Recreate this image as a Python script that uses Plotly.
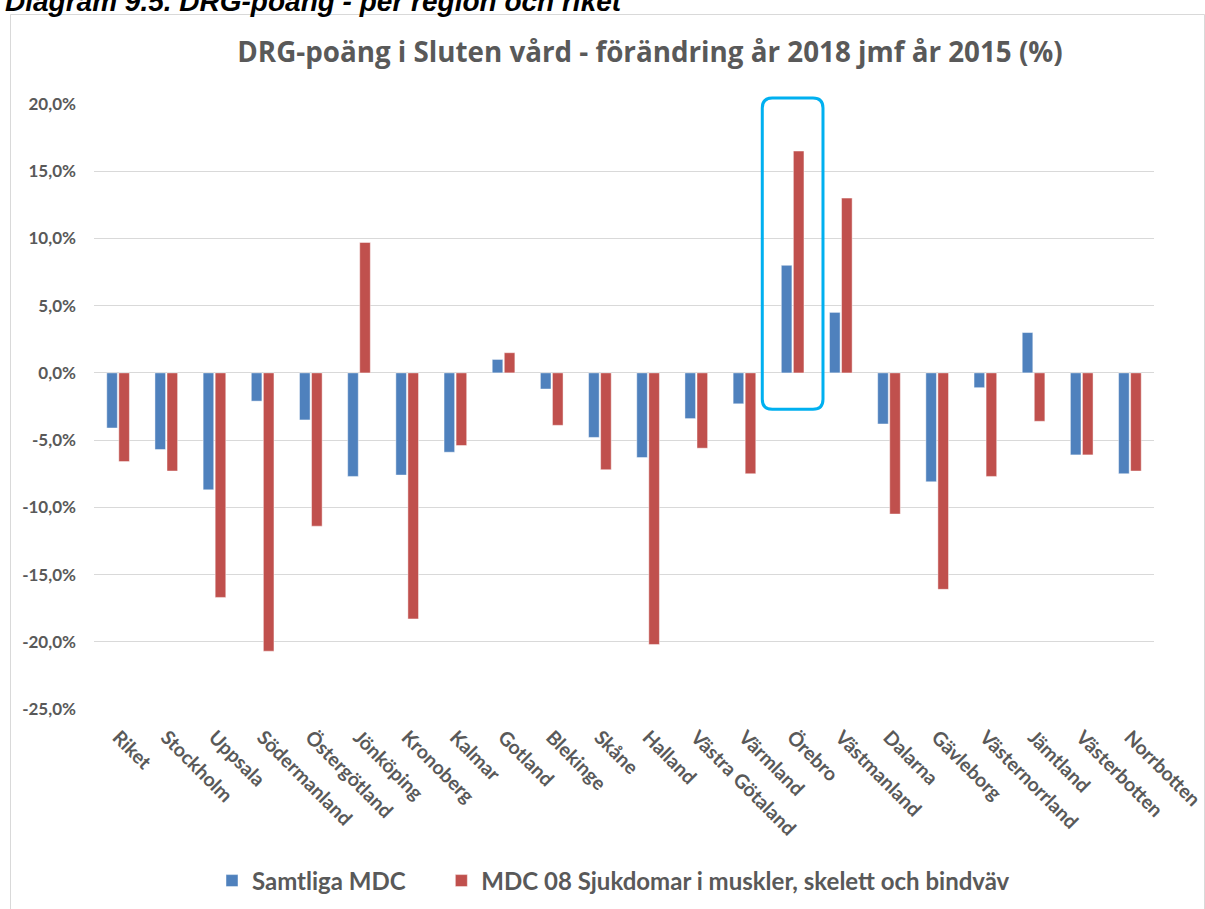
import plotly.graph_objects as go

# Regions (x categories)
regions = [
    "Riket", "Stockholm", "Uppsala", "Södermanland", "Östergötland", "Jönköping",
    "Kronoberg", "Kalmar", "Gotland", "Blekinge", "Skåne", "Halland",
    "Västra Götaland", "Värmland", "Örebro", "Västmanland", "Dalarna",
    "Gävleborg", "Västernorrland", "Jämtland", "Västerbotten", "Norrbotten",
]

# Change in DRG points 2018 vs 2015, percent
samtliga_mdc = [-4.1, -5.7, -8.7, -2.1, -3.5, -7.7, -7.6, -5.9, 1.0, -1.2, -4.8,
                -6.3, -3.4, -2.3, 8.0, 4.5, -3.8, -8.1, -1.1, 3.0, -6.1, -7.5]
mdc08 = [-6.6, -7.3, -16.7, -20.7, -11.4, 9.7, -18.3, -5.4, 1.5, -3.9, -7.2,
         -20.2, -5.6, -7.5, 16.5, 13.0, -10.5, -16.1, -7.7, -3.6, -6.1, -7.3]

series_names = ["Samtliga MDC", "MDC 08 Sjukdomar i muskler, skelett och bindväv"]

y_tickvals = [20, 15, 10, 5, 0, -5, -10, -15, -20, -25]
y_ticktext = ["20,0%", "15,0%", "10,0%", "5,0%", "0,0%", "-5,0%",
              "-10,0%", "-15,0%", "-20,0%", "-25,0%"]

highlight_region = "Örebro"

BLUE = "#4F81BD"
RED = "#C0504D"
TEXT = "#595959"
GRID = "#D9D9D9"
FONT = "Lato"

W, H = 1205, 909
ML, MR, MT, MB = 94, 51, 104, 200
plot_w = W - ML - MR
plot_h = H - MT - MB
Y_MIN, Y_MAX = -25, 20

xpos = list(range(len(regions)))

# Extra spacing after the first legend entry
legend_pad = "\u00a0" * 5

fig = go.Figure()
fig.add_trace(go.Bar(
    x=xpos, y=samtliga_mdc, name=f"<b>{series_names[0]}</b>{legend_pad}",
    marker=dict(color=BLUE, line=dict(color="rgba(255,255,255,0.45)", width=1)),
))
fig.add_trace(go.Bar(
    x=xpos, y=mdc08, name=f"<b>{series_names[1]}</b>",
    marker=dict(color=RED, line=dict(color="rgba(255,255,255,0.45)", width=1)),
))


def px_to_paper_x(px):
    return (px - ML) / plot_w


def px_to_paper_y(py):
    return (H - MB - py) / plot_h


def val_to_paper_y(v):
    return (v - Y_MIN) / (Y_MAX - Y_MIN)


# Rounded highlight box around one region's bars
# (x in data units, y in paper units so it may extend above the axis range)
hi = regions.index(highlight_region)
half_w = 0.63
y_lo, y_hi = val_to_paper_y(-2.7), val_to_paper_y(20.45)
rx = 10 / (plot_w / len(regions))
ry = 10 / plot_h
bx0, bx1 = hi - half_w, hi + half_w
path = (
    f"M {bx0 + rx},{y_hi} L {bx1 - rx},{y_hi} Q {bx1},{y_hi} {bx1},{y_hi - ry} "
    f"L {bx1},{y_lo + ry} Q {bx1},{y_lo} {bx1 - rx},{y_lo} "
    f"L {bx0 + rx},{y_lo} Q {bx0},{y_lo} {bx0},{y_lo + ry} "
    f"L {bx0},{y_hi - ry} Q {bx0},{y_hi} {bx0 + rx},{y_hi} Z"
)
fig.add_shape(type="path", path=path, xref="x", yref="paper",
              line=dict(color="#00B0F0", width=3), layer="above")

# Chart frame
fig.add_shape(type="rect", xref="paper", yref="paper",
              x0=px_to_paper_x(10.5), x1=px_to_paper_x(1204.5),
              y0=px_to_paper_y(930), y1=px_to_paper_y(14.5),
              line=dict(color=GRID, width=1), layer="below")

# Document caption above the chart frame
fig.add_annotation(
    text="<b><i>Diagram 9.5. DRG-poäng - per region och riket</i></b>",
    xref="paper", yref="paper", x=px_to_paper_x(3), y=px_to_paper_y(1),
    xanchor="left", yanchor="middle", showarrow=False,
    font=dict(family="Liberation Sans", size=28, color="#000000"),
)

fig.update_layout(
    width=W, height=H,
    margin=dict(l=ML, r=MR, t=MT, b=MB, autoexpand=False),
    paper_bgcolor="white", plot_bgcolor="white",
    barmode="group", bargap=0.5, bargroupgap=0.12,
    title=dict(
        text="<b>DRG-poäng i Sluten vård - förändring år 2018 jmf år 2015 (%)</b>",
        x=px_to_paper_x(650), xref="paper", xanchor="center",
        y=(H - 52) / H, yref="container", yanchor="middle",
        font=dict(family="Open Sans", size=27.75, color=TEXT),
    ),
    font=dict(family=FONT, color=TEXT),
    xaxis=dict(
        range=[-0.5, len(regions) - 0.5],
        tickvals=xpos, ticktext=[f"<b>{r}</b>" for r in regions],
        tickangle=45, tickfont=dict(family=FONT, size=19.5, color=TEXT),
        showgrid=False, zeroline=False, showline=False, ticks="",
        ticklabelstandoff=12, ticklabelshift=0, automargin=False,
        ticklabeloverflow="allow",
    ),
    yaxis=dict(
        range=[Y_MIN, Y_MAX],
        tickvals=y_tickvals, ticktext=[f"<b>{t}</b>" for t in y_ticktext],
        tickfont=dict(family=FONT, size=17, color=TEXT),
        showgrid=True, gridcolor=GRID, gridwidth=1,
        zeroline=True, zerolinecolor=GRID, zerolinewidth=1,
        showline=False, ticks="", ticklabelstandoff=17, automargin=False,
    ),
    legend=dict(
        orientation="h", x=px_to_paper_x(613.5), xanchor="center",
        y=px_to_paper_y(881), yanchor="middle",
        font=dict(family=FONT, size=24, color=TEXT),
        itemwidth=30, traceorder="normal",
    ),
    showlegend=True,
)

fig.write_html("out.html")
